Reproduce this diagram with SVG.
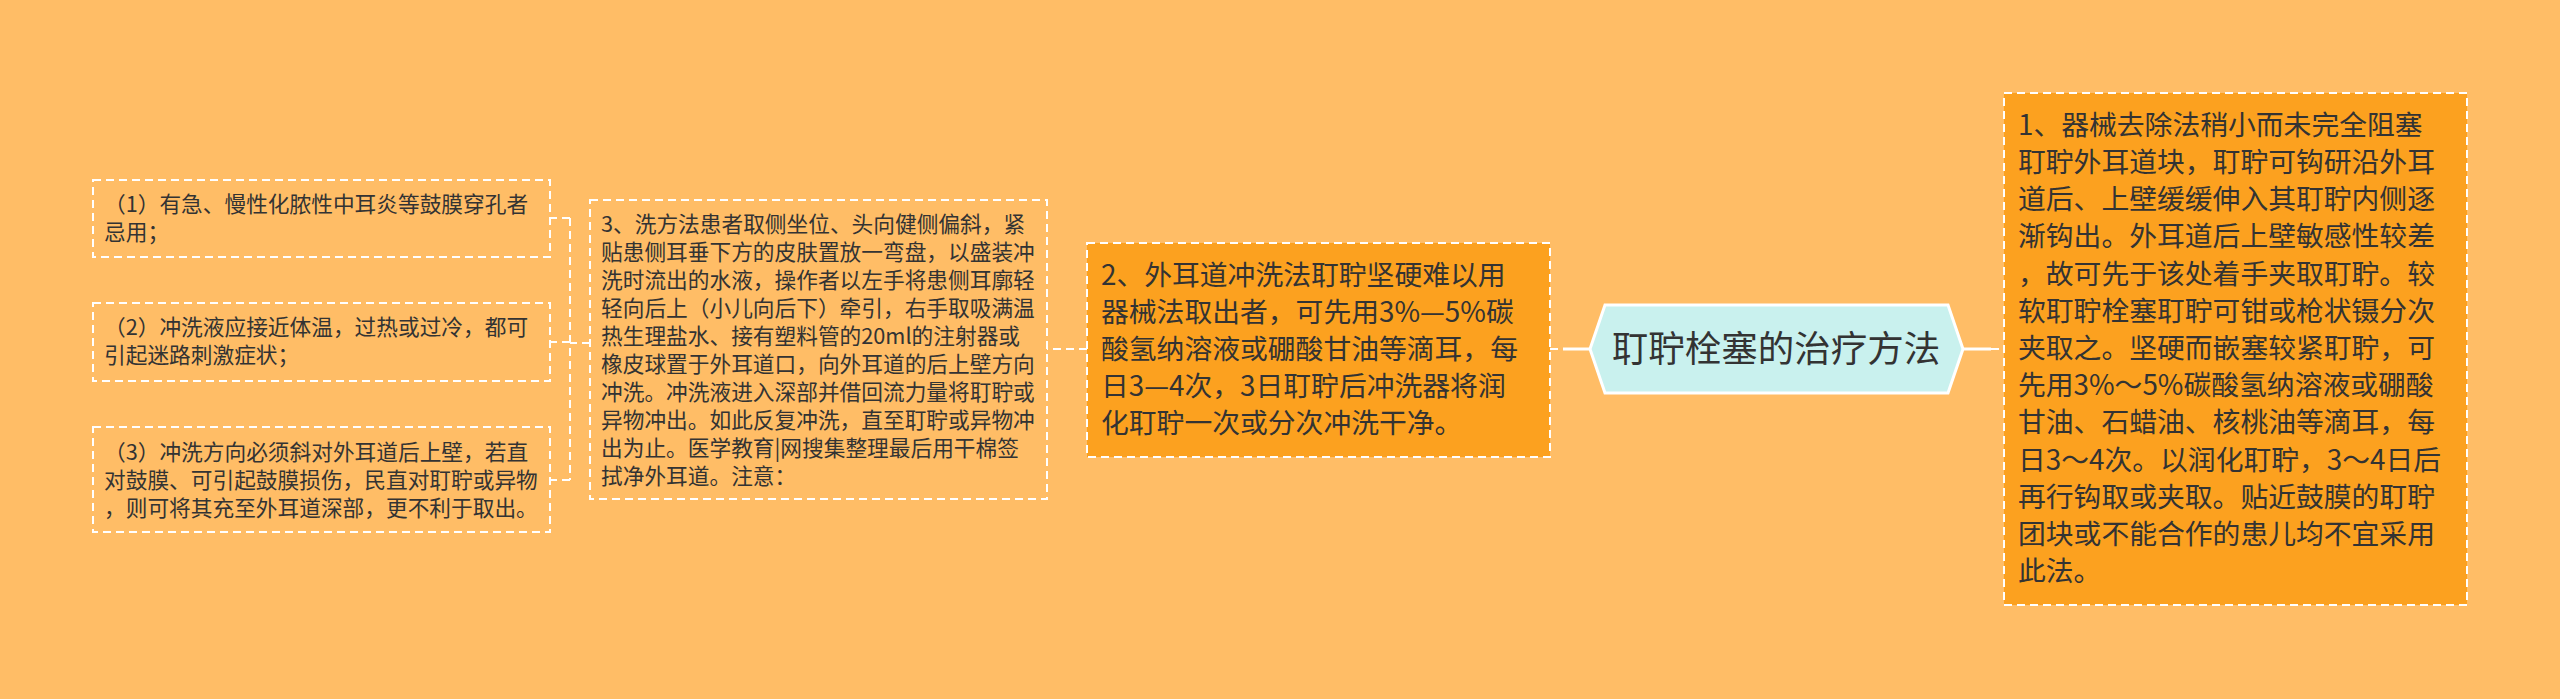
<svg xmlns="http://www.w3.org/2000/svg" width="2560" height="699" viewBox="0 0 2560 699">
<style>
.bg{fill:#FFBD66}
.box{fill:none;stroke:#FFFFFF;stroke-width:2;stroke-dasharray:8 5}
.boxf{fill:#FCA11F;stroke:#FFFFFF;stroke-width:2;stroke-dasharray:8 5}
.hex{fill:#C9F1EE;stroke:#FFFFFF;stroke-width:3}
.conn{fill:none;stroke:#FFFFFF;stroke-width:2;stroke-dasharray:8 5}
.solid{fill:none;stroke:#FFFFFF;stroke-width:3}
text{font-family:"Noto Sans CJK SC","Noto Sans",sans-serif;fill:#333333}
.s{font-size:21.7px}
.m{font-size:27.8px}
.t{font-size:36.5px}
</style>
<rect class="bg" x="0" y="0" width="2560" height="699"/>
<g id="connectors">
<path class="conn" d="M1550,349 L1563,349"/>
<path class="solid" d="M1563,349 L1590,349"/>
<path class="solid" d="M1963,349 L1991,349"/>
<path class="conn" d="M1991,349 L2004,349"/>
<path class="conn" d="M1087,349 L1047,349"/>
<path class="conn" d="M590,343 L570,343"/>
<path class="conn" d="M570,218 L570,480"/>
<path class="conn" d="M570,218 L550,218"/>
<path class="conn" d="M570,342 L550,342"/>
<path class="conn" d="M570,480 L550,480"/>
</g>
<g id="root">
<polygon class="hex" points="1590,349 1605,305 1948,305 1963,349 1948,393 1605,393"/>
<text class="t" x="1776" y="361.5" text-anchor="middle">耵聍栓塞的治疗方法</text>
</g>
<g id="node-right-1">
<rect class="boxf" x="2004" y="93" width="463" height="512"/>
<text class="m" x="2018">
<tspan x="2018" y="134.7">1、器械去除法稍小而未完全阻塞</tspan>
<tspan x="2018" y="171.9">耵聍外耳道块，耵聍可钩研沿外耳</tspan>
<tspan x="2018" y="209.1">道后、上壁缓缓伸入其耵聍内侧逐</tspan>
<tspan x="2018" y="246.3">渐钩出。外耳道后上壁敏感性较差</tspan>
<tspan x="2018" y="283.5">，故可先于该处着手夹取耵聍。较</tspan>
<tspan x="2018" y="320.7">软耵聍栓塞耵聍可钳或枪状镊分次</tspan>
<tspan x="2018" y="357.9">夹取之。坚硬而嵌塞较紧耵聍，可</tspan>
<tspan x="2018" y="395.1">先用3%～5%碳酸氢纳溶液或硼酸</tspan>
<tspan x="2018" y="432.3">甘油、石蜡油、核桃油等滴耳，每</tspan>
<tspan x="2018" y="469.5">日3～4次。以润化耵聍，3～4日后</tspan>
<tspan x="2018" y="506.7">再行钩取或夹取。贴近鼓膜的耵聍</tspan>
<tspan x="2018" y="543.9">团块或不能合作的患儿均不宜采用</tspan>
<tspan x="2018" y="581.1">此法。</tspan>
</text>
</g>
<g id="node-left-2">
<rect class="boxf" x="1087" y="243" width="463" height="214"/>
<text class="m">
<tspan x="1101" y="284.5">2、外耳道冲洗法耵聍坚硬难以用</tspan>
<tspan x="1101" y="321.5">器械法取出者，可先用3%—5%碳</tspan>
<tspan x="1101" y="358.5">酸氢纳溶液或硼酸甘油等滴耳，每</tspan>
<tspan x="1101" y="395.5">日3—4次，3日耵聍后冲洗器将润</tspan>
<tspan x="1101" y="432.5">化耵聍一次或分次冲洗干净。</tspan>
</text>
</g>
<g id="node-left-3">
<rect class="box" x="590" y="200" width="457" height="299"/>
<text class="s">
<tspan x="601" y="231.5">3、洗方法患者取侧坐位、头向健侧偏斜，紧</tspan>
<tspan x="601" y="259.5">贴患侧耳垂下方的皮肤置放一弯盘，以盛装冲</tspan>
<tspan x="601" y="287.5">洗时流出的水液，操作者以左手将患侧耳廓轻</tspan>
<tspan x="601" y="315.5">轻向后上（小儿向后下）牵引，右手取吸满温</tspan>
<tspan x="601" y="343.5">热生理盐水、接有塑料管的20ml的注射器或</tspan>
<tspan x="601" y="371.5">橡皮球置于外耳道口，向外耳道的后上壁方向</tspan>
<tspan x="601" y="399.5">冲洗。冲洗液进入深部并借回流力量将耵聍或</tspan>
<tspan x="601" y="427.5">异物冲出。如此反复冲洗，直至耵聍或异物冲</tspan>
<tspan x="601" y="455.5">出为止。医学教育|网搜集整理最后用干棉签</tspan>
<tspan x="601" y="483.5">拭净外耳道。注意：</tspan>
</text>
</g>
<g id="node-note-1">
<rect class="box" x="93" y="180" width="457" height="77"/>
<text class="s">
<tspan x="104" y="212">（1）有急、慢性化脓性中耳炎等鼓膜穿孔者</tspan>
<tspan x="104" y="240">忌用；</tspan>
</text>
</g>
<g id="node-note-2">
<rect class="box" x="93" y="303" width="457" height="78"/>
<text class="s">
<tspan x="104" y="335">（2）冲洗液应接近体温，过热或过冷，都可</tspan>
<tspan x="104" y="363">引起迷路刺激症状；</tspan>
</text>
</g>
<g id="node-note-3">
<rect class="box" x="93" y="427" width="457" height="105"/>
<text class="s">
<tspan x="104" y="460">（3）冲洗方向必须斜对外耳道后上壁，若直</tspan>
<tspan x="104" y="488">对鼓膜、可引起鼓膜损伤，民直对耵聍或异物</tspan>
<tspan x="104" y="516">，则可将其充至外耳道深部，更不利于取出。</tspan>
</text>
</g>
</svg>
